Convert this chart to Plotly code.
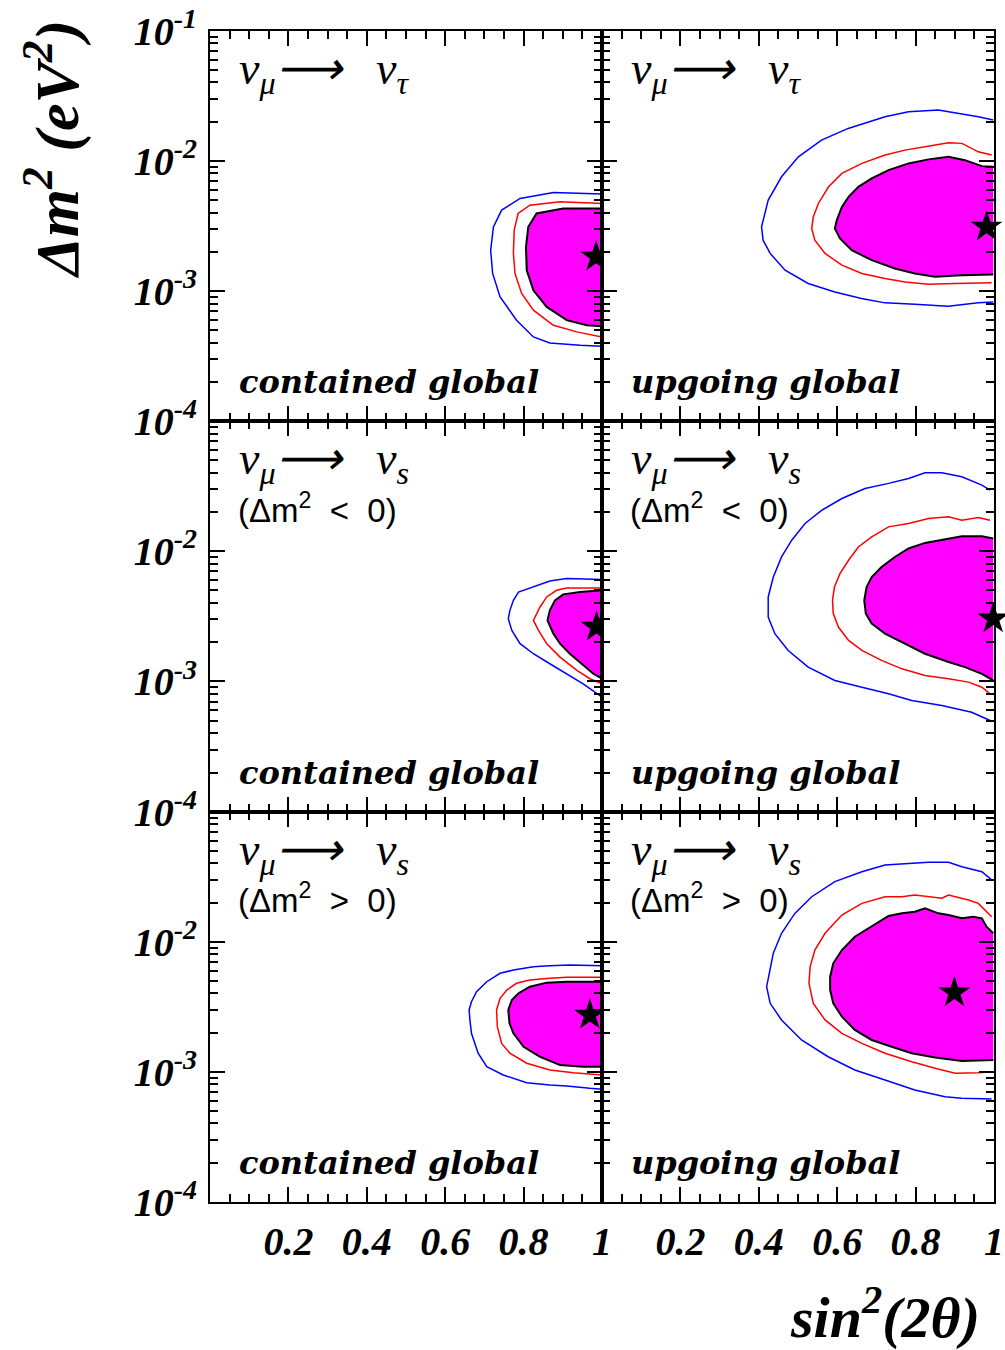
import plotly.graph_objects as go

# ---------------------------------------------------------------------------
# Allowed regions in (sin^2 2theta, dm^2) for nu_mu oscillations.
# Each contour is a polyline: x = sin^2(2theta), y = log10(dm^2 / eV^2).
# 99% C.L. (blue), 95% C.L. (red), 90% C.L. (filled magenta), best fit (star).
# ---------------------------------------------------------------------------

# nu_mu -> nu_tau, contained global
TAU_CONT_99_X = [1.0, 0.876, 0.791, 0.744, 0.723, 0.716, 0.721, 0.740, 0.782, 0.825, 0.867, 0.944, 1.0]
TAU_CONT_99_LG = [-2.256, -2.243, -2.289, -2.379, -2.508, -2.687, -2.866, -3.046, -3.225, -3.354, -3.400, -3.418, -3.425]
TAU_CONT_95_X = [1.0, 0.893, 0.816, 0.786, 0.776, 0.774, 0.778, 0.795, 0.825, 0.876, 0.936, 1.0]
TAU_CONT_95_LG = [-2.328, -2.315, -2.341, -2.405, -2.533, -2.712, -2.866, -3.020, -3.148, -3.264, -3.315, -3.354]
TAU_CONT_90_X = [1.0, 0.901, 0.833, 0.812, 0.806, 0.808, 0.825, 0.859, 0.910, 0.961, 1.0]
TAU_CONT_90_LG = [-2.366, -2.366, -2.405, -2.508, -2.662, -2.841, -2.995, -3.123, -3.225, -3.264, -3.272]
TAU_CONT_BEST = (0.985, -2.738)

# nu_mu -> nu_tau, upgoing global
TAU_UP_99_X = [0.998, 0.960, 0.858, 0.782, 0.722, 0.628, 0.560, 0.501, 0.458, 0.424, 0.407, 0.411, 0.429,
               0.467, 0.526, 0.594, 0.662, 0.722, 0.798, 0.883, 0.960, 0.998]
TAU_UP_99_LG = [-1.687, -1.662, -1.610, -1.623, -1.662, -1.751, -1.841, -1.969, -2.123, -2.302, -2.508, -2.610,
                -2.712, -2.841, -2.943, -3.008, -3.058, -3.092, -3.102, -3.118, -3.092, -3.085]
TAU_UP_95_X = [0.994, 0.960, 0.918, 0.884, 0.824, 0.773, 0.722, 0.663, 0.612, 0.578, 0.552, 0.539, 0.535,
               0.543, 0.569, 0.612, 0.663, 0.722, 0.773, 0.833, 0.901, 0.994]
TAU_UP_95_LG = [-1.956, -1.931, -1.866, -1.862, -1.892, -1.918, -1.956, -2.020, -2.097, -2.200, -2.328, -2.431,
                -2.520, -2.610, -2.712, -2.802, -2.866, -2.905, -2.931, -2.948, -2.943, -2.938]
TAU_UP_90_X = [0.998, 0.969, 0.926, 0.884, 0.833, 0.782, 0.731, 0.688, 0.654, 0.629, 0.612, 0.599, 0.594,
               0.607, 0.637, 0.688, 0.747, 0.798, 0.849, 0.918, 0.998]
TAU_UP_90_LG = [-2.046, -2.041, -1.995, -1.969, -1.989, -2.020, -2.072, -2.135, -2.200, -2.277, -2.354, -2.456,
                -2.520, -2.597, -2.687, -2.764, -2.828, -2.866, -2.892, -2.879, -2.874]
TAU_UP_BEST = (0.981, -2.508)

# nu_mu -> nu_s (dm^2 < 0), contained global
STN_CONT_99_X = [1.0, 0.910, 0.867, 0.808, 0.787, 0.774, 0.765, 0.761, 0.770, 0.791, 0.825, 0.867, 0.910, 0.952, 1.0]
STN_CONT_99_LG = [-2.218, -2.210, -2.228, -2.287, -2.313, -2.377, -2.454, -2.518, -2.608, -2.710, -2.787, -2.864,
                  -2.941, -3.018, -3.121]
STN_CONT_95_X = [1.0, 0.910, 0.884, 0.859, 0.842, 0.829, 0.825, 0.838, 0.859, 0.893, 0.936, 0.969, 1.0]
STN_CONT_95_LG = [-2.282, -2.282, -2.300, -2.351, -2.428, -2.505, -2.531, -2.608, -2.710, -2.813, -2.915, -2.979, -3.018]
STN_CONT_90_X = [1.0, 0.944, 0.901, 0.880, 0.867, 0.861, 0.876, 0.893, 0.918, 0.952, 0.978, 1.0]
STN_CONT_90_LG = [-2.300, -2.313, -2.331, -2.377, -2.454, -2.531, -2.633, -2.710, -2.787, -2.877, -2.941, -2.979]
STN_CONT_BEST = (0.986, -2.582)

# nu_mu -> nu_s (dm^2 < 0), upgoing global
STN_UP_99_X = [0.990, 0.969, 0.918, 0.867, 0.824, 0.782, 0.731, 0.671, 0.612, 0.561, 0.518, 0.484, 0.458,
               0.437, 0.424, 0.424, 0.441, 0.475, 0.526, 0.594, 0.663, 0.731, 0.790, 0.867, 0.943, 0.990]
STN_UP_99_LG = [-1.531, -1.492, -1.428, -1.397, -1.397, -1.441, -1.479, -1.518, -1.595, -1.685, -1.787, -1.915,
                -2.044, -2.198, -2.351, -2.505, -2.633, -2.762, -2.890, -2.992, -3.044, -3.095, -3.146, -3.185,
                -3.236, -3.300]
STN_UP_95_X = [0.990, 0.960, 0.918, 0.884, 0.833, 0.782, 0.731, 0.688, 0.654, 0.629, 0.607, 0.593, 0.588,
               0.590, 0.603, 0.629, 0.663, 0.713, 0.765, 0.824, 0.884, 0.935, 0.969, 0.990]
STN_UP_95_LG = [-1.762, -1.741, -1.762, -1.736, -1.749, -1.787, -1.813, -1.890, -1.967, -2.069, -2.172, -2.275,
                -2.377, -2.479, -2.582, -2.685, -2.762, -2.838, -2.903, -2.954, -2.979, -3.005, -3.044, -3.095]
STN_UP_90_X = [0.998, 0.969, 0.918, 0.875, 0.824, 0.782, 0.747, 0.713, 0.688, 0.675, 0.669, 0.673, 0.688,
               0.722, 0.773, 0.824, 0.884, 0.926, 0.969, 0.998]
STN_UP_90_LG = [-1.903, -1.885, -1.885, -1.910, -1.936, -1.979, -2.044, -2.121, -2.198, -2.275, -2.377, -2.479,
                -2.556, -2.633, -2.710, -2.787, -2.851, -2.890, -2.941, -2.992]
STN_UP_BEST = (0.998, -2.518)

# nu_mu -> nu_s (dm^2 > 0), contained global
STP_CONT_99_X = [1.0, 0.918, 0.867, 0.825, 0.774, 0.740, 0.706, 0.680, 0.667, 0.661, 0.663, 0.667, 0.684,
                 0.706, 0.748, 0.808, 0.867, 0.910, 0.969, 1.0]
STP_CONT_99_LG = [-2.185, -2.179, -2.185, -2.192, -2.218, -2.243, -2.308, -2.385, -2.462, -2.525, -2.602, -2.705,
                  -2.858, -2.962, -3.025, -3.085, -3.102, -3.110, -3.128, -3.135]
STP_CONT_95_X = [1.0, 0.910, 0.867, 0.816, 0.782, 0.757, 0.740, 0.731, 0.733, 0.744, 0.765, 0.808, 0.867, 0.927, 1.0]
STP_CONT_95_LG = [-2.274, -2.274, -2.282, -2.295, -2.320, -2.372, -2.436, -2.525, -2.654, -2.782, -2.858, -2.935,
                  -2.987, -3.008, -3.025]
STP_CONT_90_X = [1.0, 0.910, 0.859, 0.816, 0.787, 0.770, 0.761, 0.764, 0.774, 0.800, 0.842, 0.893, 0.952, 1.0]
STP_CONT_90_LG = [-2.308, -2.308, -2.315, -2.346, -2.397, -2.448, -2.525, -2.628, -2.705, -2.808, -2.885, -2.949,
                  -2.962, -2.962]
STP_CONT_BEST = (0.969, -2.564)

# nu_mu -> nu_s (dm^2 > 0), upgoing global
STP_UP_99_X = [0.994, 0.969, 0.918, 0.884, 0.833, 0.782, 0.722, 0.663, 0.594, 0.535, 0.492, 0.458, 0.437,
               0.420, 0.429, 0.458, 0.509, 0.577, 0.645, 0.722, 0.798, 0.875, 0.918, 0.994]
STP_UP_99_LG = [-1.525, -1.462, -1.423, -1.389, -1.389, -1.397, -1.410, -1.462, -1.538, -1.654, -1.782, -1.935,
                -2.089, -2.346, -2.474, -2.602, -2.756, -2.885, -2.987, -3.064, -3.141, -3.192, -3.205, -3.210]
STP_UP_95_X = [0.994, 0.960, 0.935, 0.901, 0.884, 0.867, 0.833, 0.798, 0.765, 0.722, 0.663, 0.612, 0.569,
               0.543, 0.531, 0.528, 0.539, 0.569, 0.612, 0.663, 0.722, 0.790, 0.850, 0.901, 0.960, 0.994]
STP_UP_95_LG = [-1.808, -1.705, -1.679, -1.654, -1.641, -1.666, -1.654, -1.641, -1.654, -1.654, -1.705, -1.795,
                -1.935, -2.064, -2.192, -2.320, -2.474, -2.602, -2.705, -2.782, -2.858, -2.923, -2.974, -3.012,
                -3.008, -3.000]
STP_UP_90_X = [0.998, 0.981, 0.969, 0.947, 0.918, 0.884, 0.858, 0.824, 0.798, 0.765, 0.731, 0.688, 0.645,
               0.612, 0.590, 0.582, 0.582, 0.590, 0.612, 0.645, 0.688, 0.739, 0.790, 0.850, 0.918, 0.998]
STP_UP_90_LG = [-1.935, -1.885, -1.820, -1.808, -1.820, -1.795, -1.782, -1.743, -1.769, -1.782, -1.802, -1.885,
                -1.962, -2.064, -2.166, -2.269, -2.372, -2.474, -2.577, -2.679, -2.756, -2.808, -2.858, -2.890,
                -2.918, -2.910]
STP_UP_BEST = (0.899, -2.392)

# Axis ticks
X_MAJOR = [0.2, 0.4, 0.6, 0.8, 1.0]
X_MAJOR_TEXT = ["0.2", "0.4", "0.6", "0.8", "1"]
Y_DECADES = [-4, -3, -2, -1]

# Panel text
CHANNEL_TAU = "ν<sub>μ</sub>⟶&nbsp;&nbsp; ν<sub>τ</sub>"
CHANNEL_STERILE = "ν<sub>μ</sub>⟶&nbsp;&nbsp; ν<sub>s</sub>"
SIGN_NEG = "(Δm<sup>2</sup>&nbsp; &lt;&nbsp; 0)"
SIGN_POS = "(Δm<sup>2</sup>&nbsp; &gt;&nbsp; 0)"
SAMPLE_CONT = "contained global"
SAMPLE_UP = "upgoing global"

PANELS = [
    dict(c99=(TAU_CONT_99_X, TAU_CONT_99_LG), c95=(TAU_CONT_95_X, TAU_CONT_95_LG),
         c90=(TAU_CONT_90_X, TAU_CONT_90_LG), best=TAU_CONT_BEST,
         channel=CHANNEL_TAU, sign=None, sample=SAMPLE_CONT),
    dict(c99=(TAU_UP_99_X, TAU_UP_99_LG), c95=(TAU_UP_95_X, TAU_UP_95_LG),
         c90=(TAU_UP_90_X, TAU_UP_90_LG), best=TAU_UP_BEST,
         channel=CHANNEL_TAU, sign=None, sample=SAMPLE_UP),
    dict(c99=(STN_CONT_99_X, STN_CONT_99_LG), c95=(STN_CONT_95_X, STN_CONT_95_LG),
         c90=(STN_CONT_90_X, STN_CONT_90_LG), best=STN_CONT_BEST,
         channel=CHANNEL_STERILE, sign=SIGN_NEG, sample=SAMPLE_CONT),
    dict(c99=(STN_UP_99_X, STN_UP_99_LG), c95=(STN_UP_95_X, STN_UP_95_LG),
         c90=(STN_UP_90_X, STN_UP_90_LG), best=STN_UP_BEST,
         channel=CHANNEL_STERILE, sign=SIGN_NEG, sample=SAMPLE_UP),
    dict(c99=(STP_CONT_99_X, STP_CONT_99_LG), c95=(STP_CONT_95_X, STP_CONT_95_LG),
         c90=(STP_CONT_90_X, STP_CONT_90_LG), best=STP_CONT_BEST,
         channel=CHANNEL_STERILE, sign=SIGN_POS, sample=SAMPLE_CONT),
    dict(c99=(STP_UP_99_X, STP_UP_99_LG), c95=(STP_UP_95_X, STP_UP_95_LG),
         c90=(STP_UP_90_X, STP_UP_90_LG), best=STP_UP_BEST,
         channel=CHANNEL_STERILE, sign=SIGN_POS, sample=SAMPLE_UP),
]

W, H = 1005, 1350
COL_PX = [(210, 602), (602, 994)]
ROW_PX = [(30.7, 421.0), (421.0, 811.7), (811.7, 1201.7)]

SERIF = "Liberation Serif, Times New Roman, serif"
SLAB = "DejaVu Serif, serif"
SANS = "Liberation Sans, Arial, sans-serif"


def dm2(values):
    return [10 ** v for v in values]


fig = go.Figure()
layout = dict()
annotations = []

x_minor = [round(0.05 * k, 2) for k in range(1, 20) if k % 4 != 0]
y_minor = [m * 10.0 ** d for d in (-4, -3, -2) for m in range(2, 10)]

for i, p in enumerate(PANELS):
    row, col = divmod(i, 2)
    k = i + 1
    xa = "x" if k == 1 else f"x{k}"
    ya = "y" if k == 1 else f"y{k}"

    # 90% region: filled magenta with black outline
    fx, fy = p["c90"]
    fig.add_trace(go.Scatter(x=fx, y=dm2(fy), xaxis=xa, yaxis=ya, mode="lines",
                             fill="toself", fillcolor="#ff00ff",
                             line=dict(color="black", width=2), hoverinfo="skip"))
    # 95% contour
    rx, ry = p["c95"]
    fig.add_trace(go.Scatter(x=rx, y=dm2(ry), xaxis=xa, yaxis=ya, mode="lines",
                             line=dict(color="#ff0000", width=1.5), hoverinfo="skip"))
    # 99% contour
    bx, by = p["c99"]
    fig.add_trace(go.Scatter(x=bx, y=dm2(by), xaxis=xa, yaxis=ya, mode="lines",
                             line=dict(color="#0000ff", width=1.5), hoverinfo="skip"))
    # best fit point
    sx, sy = p["best"]
    fig.add_trace(go.Scatter(x=[sx], y=[10 ** sy], xaxis=xa, yaxis=ya, mode="markers",
                             marker=dict(symbol="star", size=24, color="black",
                                         line=dict(width=0)),
                             cliponaxis=(col == 0), hoverinfo="skip"))

    x0, x1 = COL_PX[col]
    y0, y1 = ROW_PX[row]
    layout["xaxis" if k == 1 else f"xaxis{k}"] = dict(
        domain=[x0 / W, x1 / W], range=[0, 1], anchor=ya, automargin=False,
        showline=True, linecolor="black", linewidth=2, mirror="allticks",
        ticks="inside", ticklen=15, tickwidth=1.5, tickcolor="black",
        tickmode="array", tickvals=X_MAJOR, ticktext=X_MAJOR_TEXT,
        minor=dict(tickmode="array", tickvals=x_minor, ticks="inside", ticklen=8,
                   tickwidth=1.5, tickcolor="black", showgrid=False),
        showticklabels=(row == 2), showgrid=False, zeroline=False,
        tickfont=dict(family=SERIF, size=40, color="black", weight="bold", style="italic"),
        ticklabelstandoff=3,
    )
    decades = Y_DECADES if row == 0 else Y_DECADES[:-1]
    layout["yaxis" if k == 1 else f"yaxis{k}"] = dict(
        domain=[1 - y1 / H, 1 - y0 / H], type="log", range=[-4, -1], anchor=xa, automargin=False,
        showline=True, linecolor="black", linewidth=2, mirror="allticks",
        ticks="inside", ticklen=15, tickwidth=1.5, tickcolor="black",
        tickmode="array", tickvals=[10.0 ** d for d in decades],
        ticktext=[f"10<sup>{d}</sup>" for d in decades],
        minor=dict(tickmode="array", tickvals=y_minor, ticks="inside", ticklen=8,
                   tickwidth=1.5, tickcolor="black", showgrid=False),
        showticklabels=(col == 0), showgrid=False, zeroline=False,
        tickfont=dict(family=SERIF, size=40, color="black", weight="bold", style="italic"),
        ticklabelstandoff=3,
    )

    xd = f"{xa} domain"
    yd = f"{ya} domain"
    annotations.append(dict(text=p["channel"], xref=xd, yref=yd, x=0.07, y=0.895,
                            xanchor="left", yanchor="middle", showarrow=False,
                            font=dict(family=SERIF, size=46, color="black", style="italic")))
    if p["sign"]:
        annotations.append(dict(text=p["sign"], xref=xd, yref=yd, x=0.066, y=0.778,
                                xanchor="left", yanchor="middle", showarrow=False,
                                font=dict(family=SANS, size=33, color="black")))
    annotations.append(dict(text=p["sample"], xref=xd, yref=yd, x=0.07, y=0.10,
                            xanchor="left", yanchor="middle", showarrow=False,
                            font=dict(family=SLAB, size=32, color="black",
                                      weight="bold", style="italic")))

# Axis titles
annotations.append(dict(text="Δm<sup>2</sup> (eV<sup>2</sup>)", xref="paper", yref="paper",
                        x=52 / W, y=1 - 150 / H, textangle=-90, showarrow=False,
                        xanchor="center", yanchor="middle",
                        font=dict(family=SERIF, size=62, color="black", weight="bold", style="italic")))
annotations.append(dict(text="sin<sup>2</sup>(2θ)", xref="paper", yref="paper",
                        x=982 / W, y=1 - 1313 / H, showarrow=False,
                        xanchor="right", yanchor="middle",
                        font=dict(family=SERIF, size=58, color="black", weight="bold", style="italic")))

fig.update_layout(**layout)
fig.update_layout(
    width=W, height=H, margin=dict(l=0, r=0, t=0, b=0),
    paper_bgcolor="white", plot_bgcolor="white", showlegend=False,
    annotations=annotations,
)

fig.write_html("out.html")
